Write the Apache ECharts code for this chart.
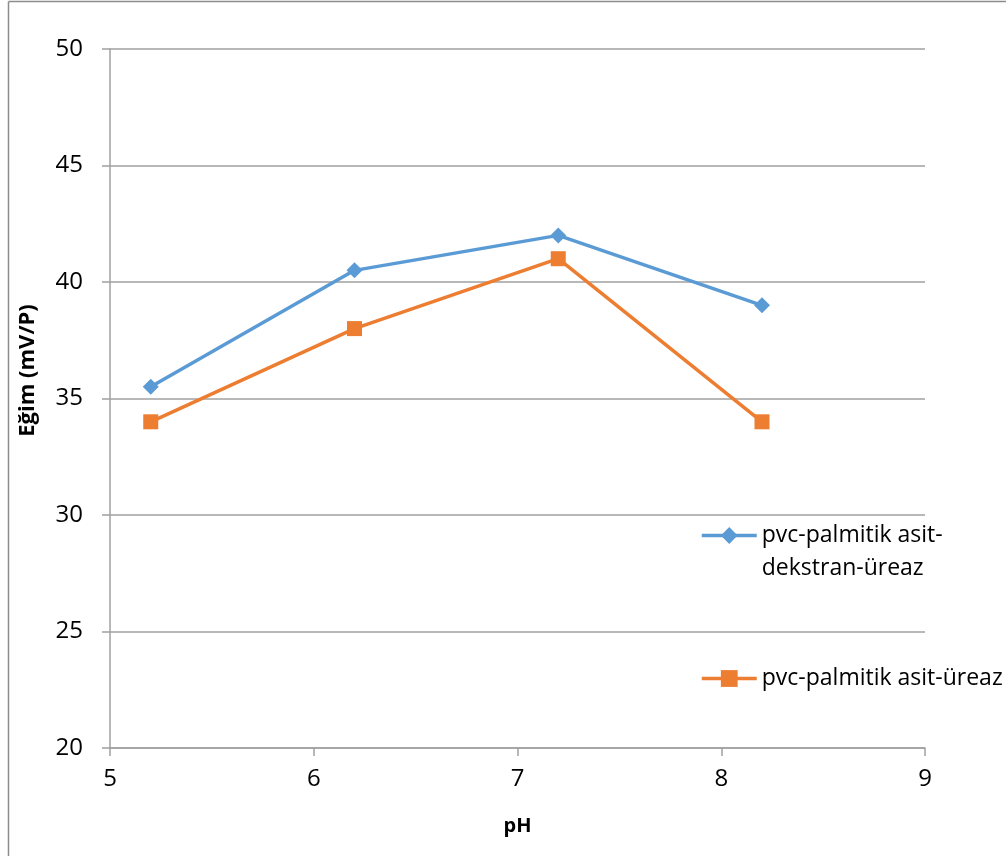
<!DOCTYPE html>
<html>
<head>
<meta charset="utf-8">
<script src="https://cdn.jsdelivr.net/npm/echarts@6/dist/echarts.min.js"></script>
<style>
  html, body { margin: 0; padding: 0; background: #fff; }
  #chart { width: 1006px; height: 856px; }
</style>
</head>
<body>
<div id="chart"></div>
<script>
// pH values on the x axis
const phValues = [5.2, 6.2, 7.2, 8.2];
// slope (mV/P) for each membrane
const dekstranSlope = [35.5, 40.5, 42, 39];
const ureazSlope = [34, 38, 41, 34];
const seriesNames = ['pvc-palmitik asit-dekstran-üreaz', 'pvc-palmitik asit-üreaz'];
const xTitle = 'pH';
const yTitle = 'Eğim (mV/P)';

const FONT = 'Open Sans';
const AXIS_GRAY = '#a0a0a0';
const BLUE = '#5b9bd5';
const ORANGE = '#ed7d31';

const pairs = (xs, ys) => xs.map((x, i) => [x, ys[i]]);

const chart = echarts.init(document.getElementById('chart'), null, { renderer: 'canvas' });

const legendCommon = {
  orient: 'vertical',
  padding: 0,
  itemWidth: 55, itemHeight: 21,
  selectedMode: false,
  lineStyle: { width: 3.5 },
  textStyle: { fontFamily: FONT, fontSize: 23, color: '#000', lineHeight: 33 }
};

chart.setOption({
  backgroundColor: '#fff',
  animation: false,
  textStyle: { fontFamily: FONT },
  grid: { left: 110, right: 81, top: 49, bottom: 108, containLabel: false },
  graphic: [
    // frame edges along the top and left
    { type: 'line', shape: { x1: 8.5, y1: 1.5, x2: 1006, y2: 1.5 }, style: { stroke: '#8c8c8c', lineWidth: 1.5 } },
    { type: 'line', shape: { x1: 8.5, y1: 1.5, x2: 8.5, y2: 856 }, style: { stroke: '#8c8c8c', lineWidth: 1.5 } }
  ],
  xAxis: {
    type: 'value',
    min: 5, max: 9, interval: 1,
    name: xTitle,
    nameLocation: 'middle',
    nameGap: 68,
    nameTextStyle: { fontFamily: FONT, fontWeight: 'bold', fontSize: 20, color: '#000' },
    axisLine: { show: true, lineStyle: { color: AXIS_GRAY, width: 1.5 } },
    axisTick: { show: true, length: 8, lineStyle: { color: AXIS_GRAY, width: 1.5 } },
    axisLabel: { fontFamily: FONT, fontSize: 24, color: '#000', margin: 19 },
    splitLine: { show: false }
  },
  yAxis: {
    type: 'value',
    min: 20, max: 50, interval: 5,
    name: yTitle,
    nameLocation: 'middle',
    nameGap: 71,
    nameRotate: 90,
    nameTextStyle: { fontFamily: FONT, fontWeight: 'bold', fontSize: 22, color: '#000', padding: [0, 0, 0, 56] },
    axisLine: { show: true, lineStyle: { color: AXIS_GRAY, width: 1.5 } },
    axisTick: { show: true, length: 8, lineStyle: { color: AXIS_GRAY, width: 1.5 } },
    axisLabel: { fontFamily: FONT, fontSize: 24, color: '#000', margin: 27 },
    splitLine: { show: true, lineStyle: { color: AXIS_GRAY, width: 1.5 } }
  },
  legend: [
    Object.assign({}, legendCommon, {
      data: [seriesNames[0]],
      left: 700, top: 486,
      formatter: () => '\npvc-palmitik asit-\ndekstran-üreaz'
    }),
    Object.assign({}, legendCommon, {
      data: [seriesNames[1]],
      left: 700, top: 662
    })
  ],
  series: [
    {
      name: seriesNames[0],
      type: 'line',
      data: pairs(phValues, dekstranSlope),
      symbol: 'diamond',
      symbolSize: 16,
      lineStyle: { color: BLUE, width: 3.5 },
      itemStyle: { color: BLUE },
      emphasis: { disabled: true }
    },
    {
      name: seriesNames[1],
      type: 'line',
      data: pairs(phValues, ureazSlope),
      symbol: 'rect',
      symbolSize: 15,
      lineStyle: { color: ORANGE, width: 3.5 },
      itemStyle: { color: ORANGE },
      emphasis: { disabled: true }
    }
  ]
});
</script>
</body>
</html>
